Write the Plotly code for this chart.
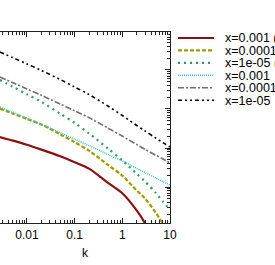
import plotly.graph_objects as go

# wavenumber grid (shared by all curves)
k = [0.0027, 0.005, 0.01, 0.02, 0.05, 0.1, 0.2, 0.5, 1, 2, 3, 5, 7, 10]

# curve values (arbitrary units, log scale)
y_x1e3_a = [0.191, 0.155, 0.121, 0.0910, 0.0612, 0.0430, 0.0296, 0.0128, 0.00689, 0.00251, 0.00117, 0.000326, 0.000119, 0.0000412]
y_x1e4_a = [1.02, 0.770, 0.556, 0.400, 0.224, 0.141, 0.0853, 0.0369, 0.0195, 0.00818, 0.00507, 0.00221, 0.00116, 0.000555]
y_x1e5_a = [5.55, 3.75, 2.39, 1.52, 0.757, 0.440, 0.237, 0.0970, 0.0481, 0.0219, 0.0138, 0.00710, 0.00428, 0.00257]
y_x1e3_b = [1.12, 0.830, 0.580, 0.403, 0.247, 0.168, 0.115, 0.0685, 0.0465, 0.0300, 0.0234, 0.0171, 0.0138, 0.0112]
y_x1e4_b = [6.62, 4.75, 3.26, 2.24, 1.34, 0.894, 0.601, 0.324, 0.201, 0.123, 0.0921, 0.0658, 0.0529, 0.0412]
y_x1e5_b = [29.0, 20.8, 14.3, 9.71, 5.71, 3.66, 2.35, 1.19, 0.681, 0.378, 0.273, 0.180, 0.138, 0.106]

labels = ["x=0.001 (BK)", "x=0.0001 (BK)", "x=1e-05 (BK)", "x=0.001", "x=0.0001", "x=1e-05"]
series = [y_x1e3_a, y_x1e4_a, y_x1e5_a, y_x1e3_b, y_x1e4_b, y_x1e5_b]
colors = ["#8b1010", "#a09a00", "#2e9a5e", "#40c4cc", "#707070", "#000000"]
dashes = ["solid", "4px,2px", "2px,4px", "1px,1px", "6px,2px,2px,2px", "4px,3px,2px,3px,2px,3px"]
widths = [2.2, 2.2, 2.2, 1.6, 1.6, 1.6]

xtick_vals = [0.01, 0.1, 1, 10]
xtick_text = ["0.01", "0.1", "1", "10"]

W, H = 275, 265
FONT = "Liberation Sans, Arial, sans-serif"

fig = go.Figure()
for lab, ys, c, d, w in zip(labels, series, colors, dashes, widths):
    fig.add_trace(go.Scatter(x=k, y=ys, mode="lines", name=lab,
                             line=dict(color=c, dash=d, width=w, shape="spline", smoothing=0.8),
                             showlegend=False, xaxis="x", yaxis="y"))
    # legend sample on its own small axis
    fig.add_trace(go.Scatter(x=[0, 1], y=[lab, lab], mode="lines",
                             line=dict(color=c, dash=d, width=w),
                             showlegend=False, xaxis="x2", yaxis="y2"))

fig.update_layout(
    template="none",
    width=W, height=H,
    margin=dict(l=0, r=0, t=0, b=0, pad=0),
    paper_bgcolor="white", plot_bgcolor="white",
    font=dict(family=FONT, size=12, color="black"),
    xaxis=dict(
        type="log", range=[-2.566, 1.0], domain=[0, 170 / W],
        anchor="y", automargin=False,
        showline=True, linecolor="#222", linewidth=1, mirror="allticks",
        ticks="inside", ticklen=5, tickcolor="#222",
        tickvals=xtick_vals, ticktext=xtick_text, ticklabelstandoff=1,
        minor=dict(ticks="inside", ticklen=3, tickcolor="#222", dtick="D1", showgrid=False),
        showgrid=False, zeroline=False,
        tickfont=dict(size=12),
        title=dict(text="k", font=dict(size=12), standoff=7),
    ),
    yaxis=dict(
        type="log", range=[-2.923, 1.974], domain=[1 - 223 / H, 1 - 32 / H],
        anchor="x", side="right", automargin=False,
        showline=True, linecolor="#222", linewidth=1,
        ticks="inside", ticklen=5, tickcolor="#222", dtick=1,
        minor=dict(ticks="inside", ticklen=3, tickcolor="#222", dtick="D1", showgrid=False),
        showticklabels=False, showgrid=False, zeroline=False,
    ),
    xaxis2=dict(domain=[178 / W, 214 / W], range=[0, 1], anchor="y2",
                visible=False, automargin=False),
    yaxis2=dict(domain=[1 - 106.4 / H, 1 - 31.8 / H], anchor="x2", side="right",
                type="category", categoryorder="array", categoryarray=labels,
                tickmode="array", tickvals=labels, ticktext=labels,
                range=[5.5, -0.5], showgrid=False, zeroline=False, showline=False,
                ticks="", ticklabelstandoff=10, automargin=False,
                tickfont=dict(size=12.5)),
)

fig.write_html("out.html", config={"displayModeBar": False},
               post_script="document.body.style.margin='0';")
